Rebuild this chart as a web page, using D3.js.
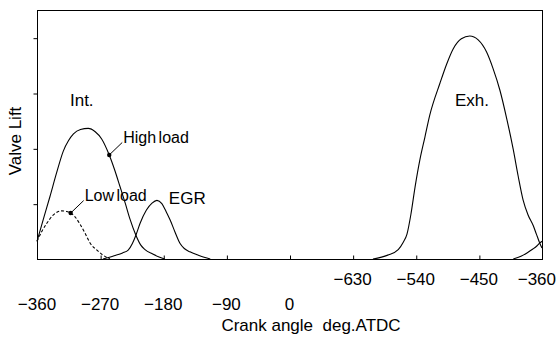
<!DOCTYPE html>
<html>
<head>
<meta charset="utf-8">
<script src="https://cdn.jsdelivr.net/npm/d3@7/dist/d3.min.js"></script>
<style>
  html, body { margin: 0; padding: 0; background: #fff; }
  svg { display: block; font-family: "Liberation Sans", Arial, sans-serif; }
</style>
</head>
<body>
<svg id="chart" width="558" height="338"></svg>
<script>
// Valve lift profiles against crank angle (deg. ATDC)
const intakeHigh = [
  [-360, 0.32], [-350, 0.76], [-341.5, 1.13], [-332, 1.56], [-322.5, 1.95],
  [-315, 2.14], [-308, 2.26], [-298, 2.34], [-287, 2.36], [-277, 2.3],
  [-267.8, 2.17], [-257, 1.88], [-249, 1.6], [-241.7, 1.31], [-234, 1.0],
  [-227.4, 0.72], [-219, 0.43], [-212, 0.25], [-206, 0.17], [-195, 0.09],
  [-185, 0.03], [-178, 0]
];
// opening ramp of the next intake event, at the end of the cycle
const intakeNext = [
  [319, 0], [330, 0.05], [338.6, 0.11], [347, 0.18], [353, 0.24], [357, 0.29], [360, 0.32]
];
const intakeLow = [
  [-360, 0.32], [-353, 0.5], [-346, 0.645], [-338, 0.78], [-331, 0.85],
  [-324.8, 0.87], [-318, 0.86], [-312, 0.83], [-305, 0.75], [-298.7, 0.63],
  [-291.6, 0.47], [-284.4, 0.29], [-274.5, 0.16], [-265.9, 0.07], [-256, 0]
];
const egr = [
  [-266, 0], [-250, 0.06], [-238, 0.11], [-230, 0.16], [-224, 0.28],
  [-219, 0.43], [-213, 0.645], [-204, 0.885], [-196, 1.01], [-189, 1.06],
  [-182, 1.0], [-176, 0.86], [-170, 0.7], [-163, 0.48], [-156, 0.28],
  [-150, 0.19], [-142, 0.13], [-128, 0.06], [-113, 0]
];
const exhaust = [
  [119, 0], [140, 0.07], [155, 0.17], [162, 0.3], [167.5, 0.45], [173, 0.8],
  [179, 1.3], [186, 1.8], [193, 2.2], [200, 2.6], [214.6, 3.18], [224, 3.52],
  [233.5, 3.8], [245, 3.98], [257, 4.03], [269, 3.96], [281, 3.74], [290, 3.45],
  [300, 3.05], [310, 2.52], [319, 1.98], [326, 1.5], [333, 1.07], [340, 0.8],
  [347.6, 0.6], [352, 0.45], [357, 0.28], [360, 0.2]
];

// marked points on the intake curves with their labels
const markers = [
  { name: "High load", angle: -257, lift: 1.88 },
  { name: "Low load", angle: -312, lift: 0.83 }
];

// curve names
const curveLabels = [
  { text: "Int.", angle: -313, lift: 2.76 },
  { text: "EGR", angle: -172, lift: 0.99 },
  { text: "Exh.", angle: 236, lift: 2.76 }
];

const lowerTickValues = [-360, -270, -180, -90, 0];
const lowerTickLabels = ["\u2212360", "\u2212270", "\u2212180", "\u221290", "0"];
const upperTickValues = [90, 180, 270, 360];
const upperTickLabels = ["\u2212630", "\u2212540", "\u2212450", "\u2212360"];
const innerTickValues = [-270, -180, -90, 0, 90, 180, 270];
const liftTickValues = [1, 2, 3, 4];

const W = 558, H = 338;
const plot = { left: 37, right: 542, top: 10, bottom: 259 };

const svg = d3.select("#chart");
const x = d3.scaleLinear().domain([-360, 360]).range([plot.left, plot.right]);
const y = d3.scaleLinear().domain([0, 4.5]).range([plot.bottom, plot.top]);

// frame
svg.append("rect")
  .attr("x", plot.left + 0.5).attr("y", plot.top + 0.5)
  .attr("width", plot.right - plot.left).attr("height", plot.bottom - plot.top)
  .attr("fill", "none").attr("stroke", "#000").attr("stroke-width", 1);

// left ticks (outward)
const yAxis = d3.axisLeft(y).tickValues(liftTickValues).tickSize(4).tickFormat("");
svg.append("g").attr("transform", `translate(${plot.left + 0.5},0.5)`).call(yAxis)
  .call(g => g.select(".domain").remove())
  .call(g => g.selectAll("line").attr("stroke", "#000"));

// bottom ticks (inward)
const xAxis = d3.axisBottom(x).tickValues(innerTickValues).tickSize(-4).tickFormat("");
svg.append("g").attr("transform", `translate(0.5,${plot.bottom + 0.5})`).call(xAxis)
  .call(g => g.select(".domain").remove())
  .call(g => g.selectAll("line").attr("stroke", "#000"));

// tick labels in two rows
const tickFont = 17;
svg.append("g").selectAll("text").data(lowerTickValues).join("text")
  .attr("x", d => x(d)).attr("y", 310)
  .attr("text-anchor", "middle").attr("font-size", tickFont)
  .text((d, i) => lowerTickLabels[i]);

svg.append("g").selectAll("text").data(upperTickValues).join("text")
  .attr("x", d => x(d)).attr("y", 285)
  .attr("text-anchor", "middle").attr("font-size", tickFont)
  .text((d, i) => upperTickLabels[i])
  .each(function () {
    // keep the last label inside the picture
    const b = this.getBBox();
    if (b.x + b.width > W - 2) d3.select(this).attr("x", +d3.select(this).attr("x") - (b.x + b.width - (W - 2)));
  });

// axis titles
svg.append("text").attr("x", 311).attr("y", 331).attr("text-anchor", "middle")
  .attr("font-size", 17).attr("xml:space", "preserve").style("white-space", "pre")
  .text("Crank angle  deg.ATDC");
svg.append("text").attr("transform", "translate(21,141) rotate(-90)")
  .attr("text-anchor", "middle").attr("font-size", 17).text("Valve Lift");

// curves
const line = d3.line().x(d => x(d[0])).y(d => y(d[1])).curve(d3.curveMonotoneX);
const curves = svg.append("g").attr("fill", "none").attr("stroke", "#000").attr("stroke-width", 1.1);
curves.append("path").attr("d", line(intakeHigh));
curves.append("path").attr("d", line(intakeNext));
curves.append("path").attr("d", line(intakeLow)).attr("stroke-dasharray", "3,2");
curves.append("path").attr("d", line(egr));
curves.append("path").attr("d", line(exhaust));

// markers with leader lines and labels
const mk = svg.append("g");
mk.selectAll("circle").data(markers).join("circle")
  .attr("cx", d => x(d.angle)).attr("cy", d => y(d.lift)).attr("r", 2.2).attr("fill", "#000");
mk.selectAll("line").data(markers).join("line")
  .attr("x1", d => x(d.angle)).attr("y1", d => y(d.lift))
  .attr("x2", d => x(d.angle) + 13).attr("y2", d => y(d.lift) - 12.5)
  .attr("stroke", "#000").attr("stroke-width", 1);
mk.selectAll("text").data(markers).join("text")
  .attr("x", d => x(d.angle) + 14).attr("y", d => y(d.lift) - 12)
  .attr("font-size", 16).attr("word-spacing", -2).text(d => d.name);

svg.append("g").selectAll("text").data(curveLabels).join("text")
  .attr("x", d => x(d.angle)).attr("y", d => y(d.lift))
  .attr("font-size", 17).text(d => d.text);
</script>
</body>
</html>
